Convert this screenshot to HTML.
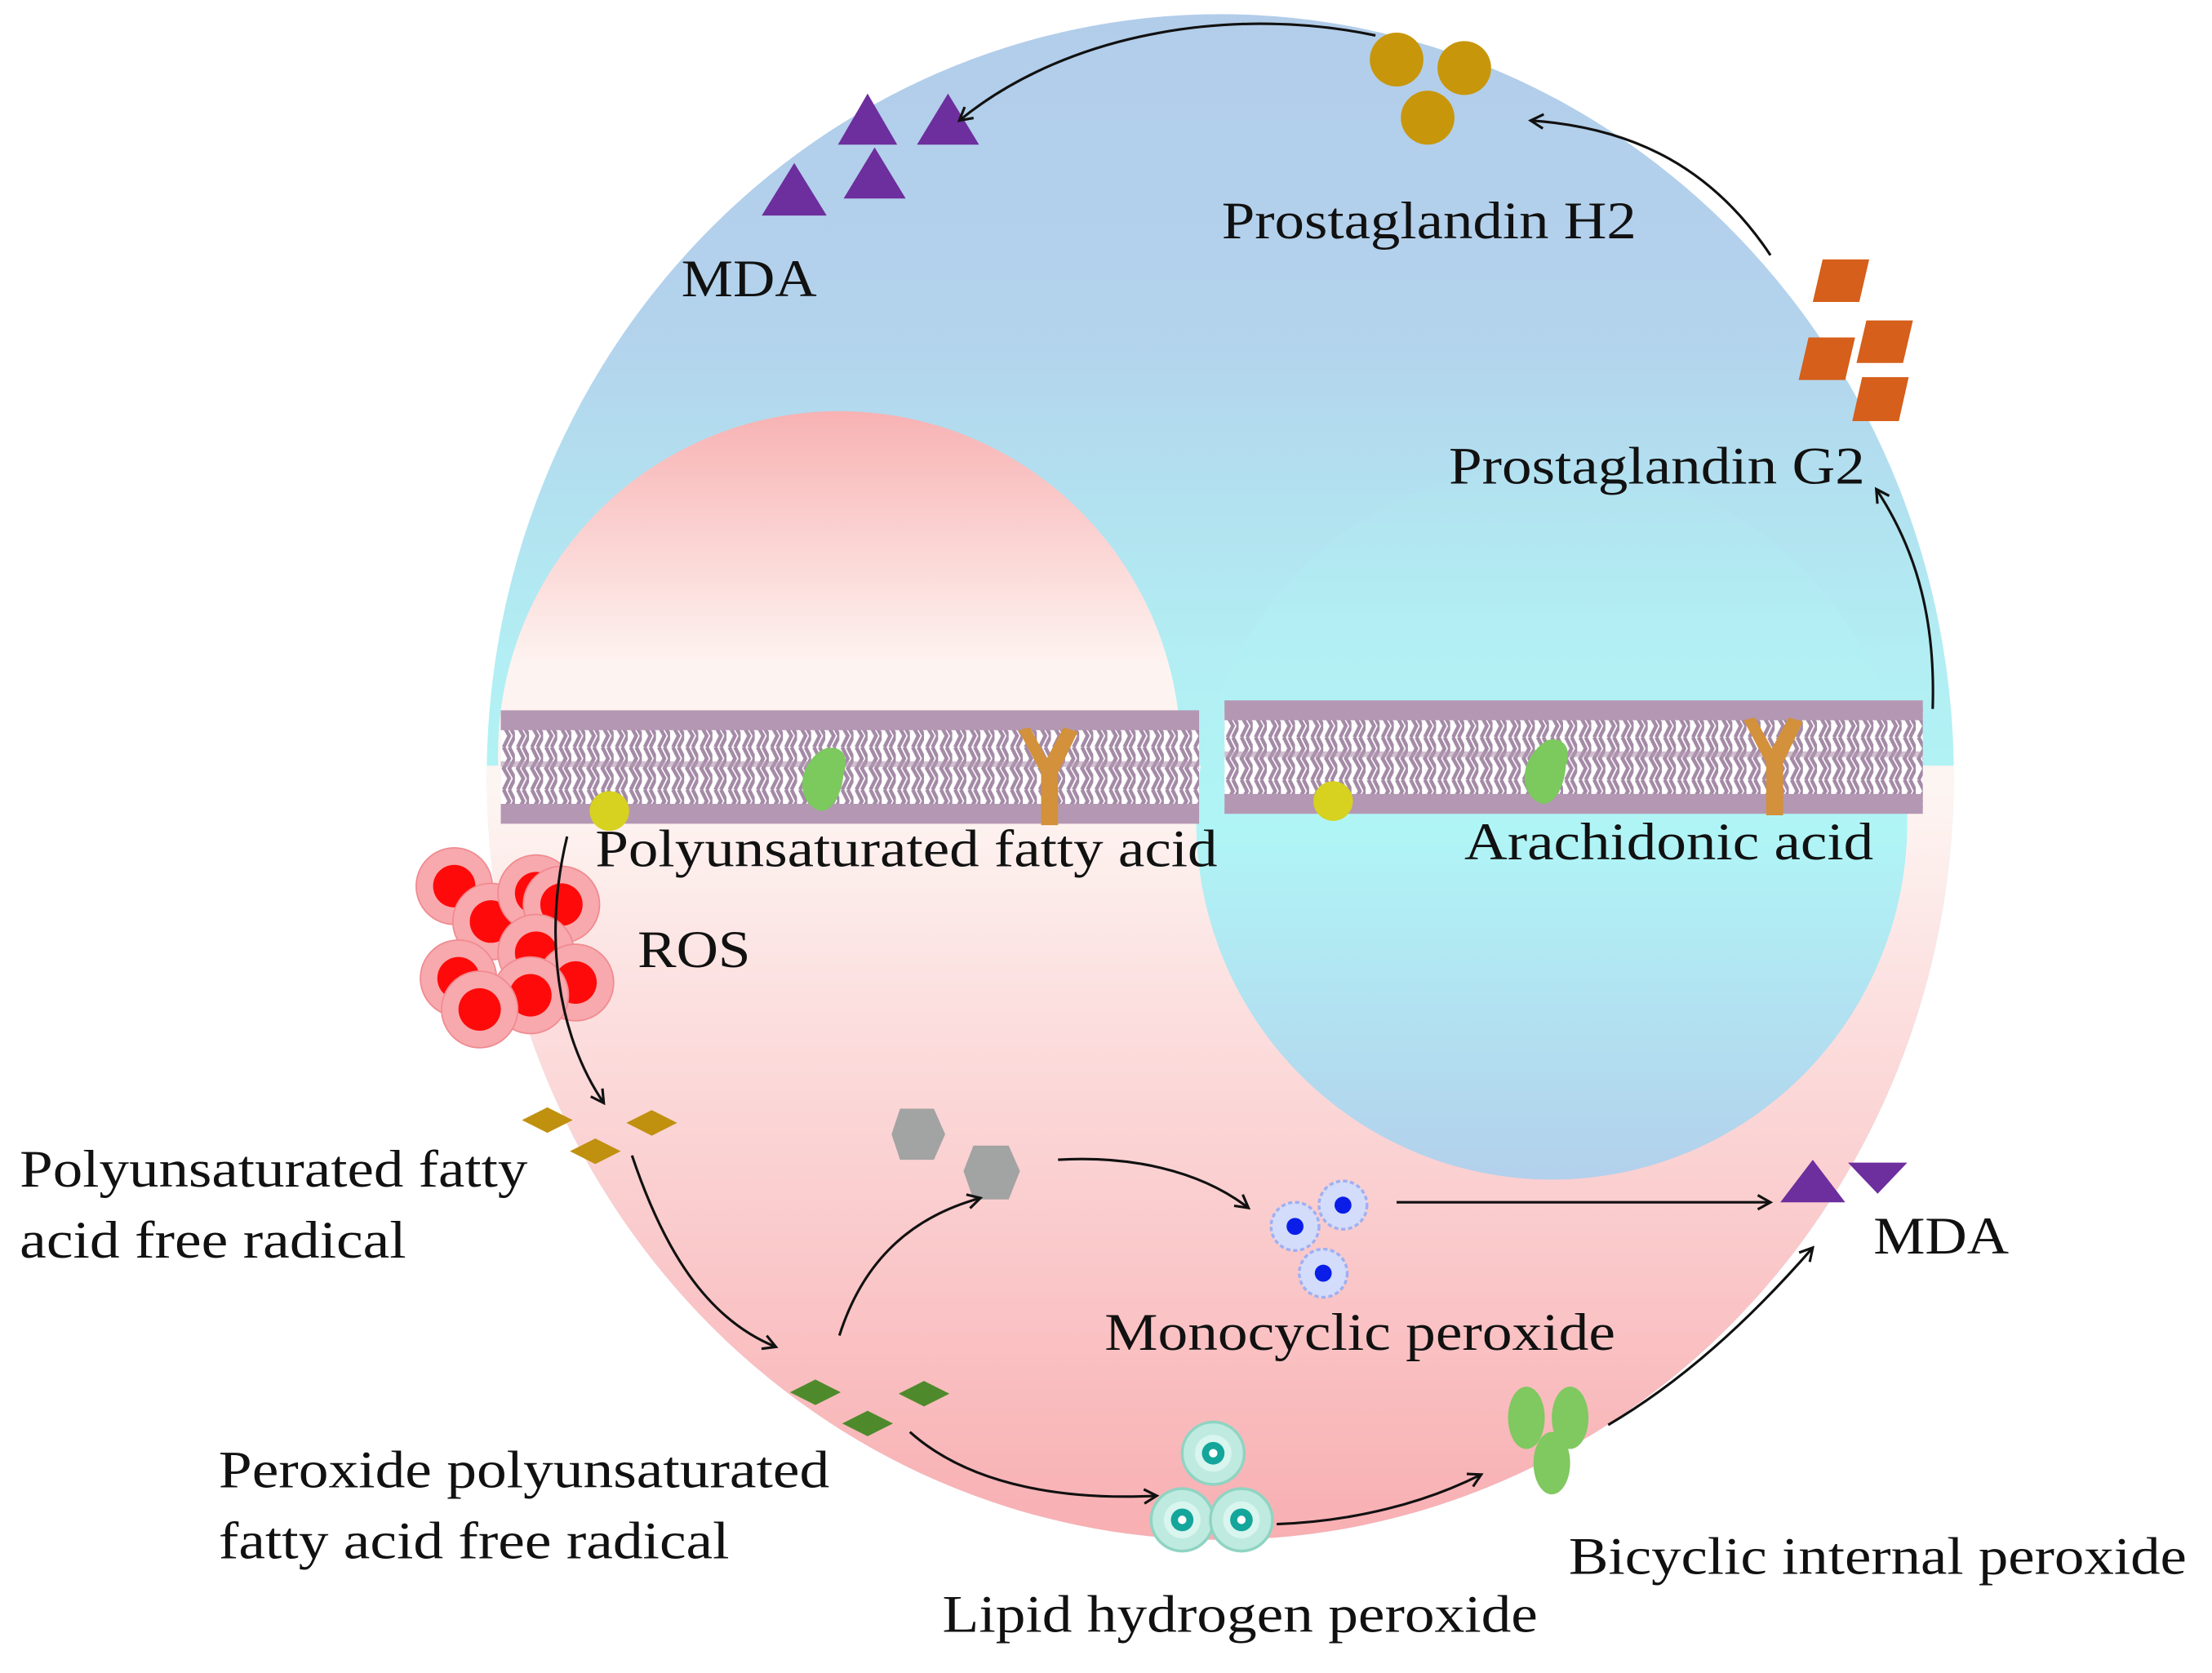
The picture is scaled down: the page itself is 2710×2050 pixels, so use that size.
<!DOCTYPE html>
<html><head><meta charset="utf-8"><style>html,body{margin:0;padding:0;background:#fff;width:2710px;height:2050px;overflow:hidden}</style></head>
<body>
<svg width="2710" height="2050" viewBox="0 0 1568 1180" preserveAspectRatio="none" xmlns="http://www.w3.org/2000/svg">
<defs>
<linearGradient id="gBig" x1="0" y1="10" x2="0" y2="1085" gradientUnits="userSpaceOnUse">
<stop offset="0" stop-color="#b2cdea"/><stop offset="0.2" stop-color="#b3d2ec"/><stop offset="0.42" stop-color="#b2eef3"/><stop offset="0.55" stop-color="#b0f5f6"/><stop offset="1" stop-color="#b3d0ec"/></linearGradient>
<linearGradient id="gPinkTop" x1="0" y1="290" x2="0" y2="470" gradientUnits="userSpaceOnUse">
<stop offset="0" stop-color="#f8b2b3"/><stop offset="1" stop-color="#fdf4f1"/></linearGradient>
<linearGradient id="gPinkBot" x1="0" y1="560" x2="0" y2="1085" gradientUnits="userSpaceOnUse">
<stop offset="0" stop-color="#fdf5f2"/><stop offset="0.3" stop-color="#fcdede"/><stop offset="1" stop-color="#f8afb2"/></linearGradient>
<linearGradient id="gBlue" x1="0" y1="10" x2="0" y2="832" gradientUnits="userSpaceOnUse">
<stop offset="0" stop-color="#b2cdea"/><stop offset="0.25" stop-color="#b3d2ec"/><stop offset="0.52" stop-color="#b2eef3"/><stop offset="0.7" stop-color="#b0f5f6"/><stop offset="1" stop-color="#b3d0ec"/></linearGradient>
<clipPath id="cBig"><ellipse cx="865" cy="548" rx="520" ry="538"/></clipPath>
<pattern id="tails" width="10" height="30" patternUnits="userSpaceOnUse">
<rect width="10" height="30" fill="#fff"/>
<path d="M2 0 L6 8 L2 15 L6 22 L2 30 M6 0 L10 8 L6 15 L10 22 L6 30" stroke="#a48aa6" stroke-width="2.6" fill="none"/></pattern>
<marker id="ah" markerWidth="12" markerHeight="12" refX="10" refY="6" orient="auto" markerUnits="userSpaceOnUse">
<path d="M1 1 L10 6 L1 11" fill="none" stroke="#111" stroke-width="1.8"/></marker>
<g id="mem">
<rect x="0" y="10" width="495" height="70" fill="url(#tails)"/>
<rect x="0" y="4" width="495" height="14" fill="#b497b3"/>
<rect x="0" y="70" width="495" height="14" fill="#b497b3"/>
<rect x="0" y="40" width="495" height="4" fill="#b497b3" opacity="0.6"/>
</g>
<g id="cell"><circle r="27" fill="#f7a9ad" stroke="#f08a90" stroke-width="1"/><circle r="15" fill="#ff0a0a"/></g>
<g id="tcell"><circle r="22" fill="#bfeadf" stroke="#8fd4c2" stroke-width="2"/><circle r="13" fill="#d8f5ee"/><circle r="8" fill="#14a59b"/><circle r="3" fill="#fff"/></g>
<g id="bcell"><circle r="17" fill="#d3dcfa" stroke="#9fb0f2" stroke-width="2" stroke-dasharray="3 2"/><circle r="6" fill="#0a1ee8"/></g>
</defs>

<ellipse cx="865" cy="548" rx="520" ry="538" fill="url(#gBig)"/>
<g clip-path="url(#cBig)">
<circle cx="595" cy="532" r="242" fill="url(#gPinkTop)"/>
<rect x="340" y="540" width="1060" height="560" fill="url(#gPinkBot)"/>
<circle cx="1100" cy="580" r="252" fill="url(#gBlue)"/>
</g>

<use href="#mem" x="355" y="497"/>
<use href="#mem" x="868" y="490"/>
<circle cx="432" cy="572" r="14" fill="#d6d21f"/>
<circle cx="945" cy="565" r="14" fill="#d6d21f"/>
<path d="M585 528 C598 525 602 535 598 545 C597 560 590 572 582 572 C572 570 566 558 570 545 C574 535 580 530 585 528Z" fill="#7cc95e"/>
<path d="M1097 522 C1110 519 1114 530 1110 540 C1109 555 1102 567 1094 567 C1084 565 1078 553 1082 540 C1086 530 1092 525 1097 522Z" fill="#7cc95e"/>
<path d="M722 515 L730 513 L742 535 L754 513 L764 516 L750 545 L750 582 L738 582 L738 545 Z" fill="#d2913a"/>
<path d="M1236 508 L1244 506 L1256 528 L1268 506 L1278 509 L1264 538 L1264 575 L1252 575 L1252 538 Z" fill="#d2913a"/>

<use href="#cell" x="322" y="625"/><use href="#cell" x="348" y="650"/><use href="#cell" x="380" y="630"/><use href="#cell" x="398" y="638"/>
<use href="#cell" x="325" y="690"/><use href="#cell" x="380" y="672"/><use href="#cell" x="408" y="693"/><use href="#cell" x="376" y="702"/><use href="#cell" x="340" y="712"/>

<g fill="#c0900f"><path d="M370 790 L388 781 L406 790 L388 799Z"/><path d="M404 812 L422 803 L440 812 L422 821Z"/><path d="M444 792 L462 783 L480 792 L462 801Z"/></g>
<g fill="#4e8a2b"><path d="M560 982 L578 973 L596 982 L578 991Z"/><path d="M597 1004 L615 995 L633 1004 L615 1013Z"/><path d="M637 983 L655 974 L673 983 L655 992Z"/></g>

<path d="M638 782 L662 782 L670 800 L662 818 L638 818 L632 800Z" fill="#a2a3a3"/>
<path d="M690 808 L715 808 L723 826 L715 846 L690 846 L683 826Z" fill="#a2a3a3"/>

<use href="#bcell" x="918" y="865"/><use href="#bcell" x="952" y="850"/><use href="#bcell" x="938" y="898"/>
<use href="#tcell" x="860" y="1025"/><use href="#tcell" x="838" y="1072"/><use href="#tcell" x="880" y="1072"/>
<g fill="#80c860"><ellipse cx="1082" cy="1000" rx="13" ry="22"/><ellipse cx="1113" cy="1000" rx="13" ry="22"/><ellipse cx="1100" cy="1032" rx="13" ry="22"/></g>

<g fill="#6d2e9e">
<path d="M1262 848 L1285 818 L1308 848Z"/><path d="M1310 820 L1352 820 L1331 842Z"/>
<path d="M594 102 L615 66 L636 102Z"/><path d="M650 102 L672 66 L694 102Z"/>
<path d="M540 152 L563 115 L586 152Z"/><path d="M598 140 L620 104 L642 140Z"/></g>

<g fill="#c8960a"><circle cx="990" cy="42" r="19"/><circle cx="1038" cy="48" r="19"/><circle cx="1012" cy="83" r="19"/></g>
<g fill="#d55f1b"><path d="M1292 183 L1325 183 L1318 213 L1285 213Z"/><path d="M1282 238 L1315 238 L1308 268 L1275 268Z"/><path d="M1323 226 L1356 226 L1349 256 L1316 256Z"/><path d="M1320 266 L1353 266 L1346 297 L1313 297Z"/></g>

<g fill="none" stroke="#111" stroke-width="1.8" marker-end="url(#ah)">
<path d="M402 590 C385 660 395 730 428 778"/>
<path d="M448 815 C470 880 500 930 550 950"/>
<path d="M595 942 C610 895 640 860 695 845"/>
<path d="M750 818 C800 815 850 825 885 852"/>
<path d="M990 848 L1255 848"/>
<path d="M645 1010 C690 1050 760 1058 820 1055"/>
<path d="M905 1075 C960 1073 1010 1060 1050 1040"/>
<path d="M1140 1005 C1200 970 1250 920 1285 880"/>
<path d="M1370 500 C1372 440 1360 390 1330 345"/>
<path d="M1255 180 C1215 120 1160 90 1085 85"/>
<path d="M975 25 C880 5 760 20 680 85"/>
</g>

<g font-family="Liberation Serif, serif" font-size="37" fill="#111">
<text x="483" y="209" textLength="96" lengthAdjust="spacingAndGlyphs">MDA</text>
<text x="866" y="168" textLength="294" lengthAdjust="spacingAndGlyphs">Prostaglandin H2</text>
<text x="1027" y="341" textLength="295" lengthAdjust="spacingAndGlyphs">Prostaglandin G2</text>
<text x="422" y="611" textLength="441" lengthAdjust="spacingAndGlyphs">Polyunsaturated fatty acid</text>
<text x="1038" y="606" textLength="290" lengthAdjust="spacingAndGlyphs">Arachidonic acid</text>
<text x="452" y="682" textLength="80" lengthAdjust="spacingAndGlyphs">ROS</text>
<text x="14" y="837" textLength="360" lengthAdjust="spacingAndGlyphs">Polyunsaturated fatty</text>
<text x="14" y="887" textLength="274" lengthAdjust="spacingAndGlyphs">acid free radical</text>
<text x="783" y="952" textLength="362" lengthAdjust="spacingAndGlyphs">Monocyclic peroxide</text>
<text x="1328" y="884" textLength="96" lengthAdjust="spacingAndGlyphs">MDA</text>
<text x="155" y="1049" textLength="433" lengthAdjust="spacingAndGlyphs">Peroxide polyunsaturated</text>
<text x="155" y="1099" textLength="362" lengthAdjust="spacingAndGlyphs">fatty acid free radical</text>
<text x="668" y="1151" textLength="422" lengthAdjust="spacingAndGlyphs">Lipid hydrogen peroxide</text>
<text x="1112" y="1110" textLength="438" lengthAdjust="spacingAndGlyphs">Bicyclic internal peroxide</text>
</g>
</svg>
</body></html>
